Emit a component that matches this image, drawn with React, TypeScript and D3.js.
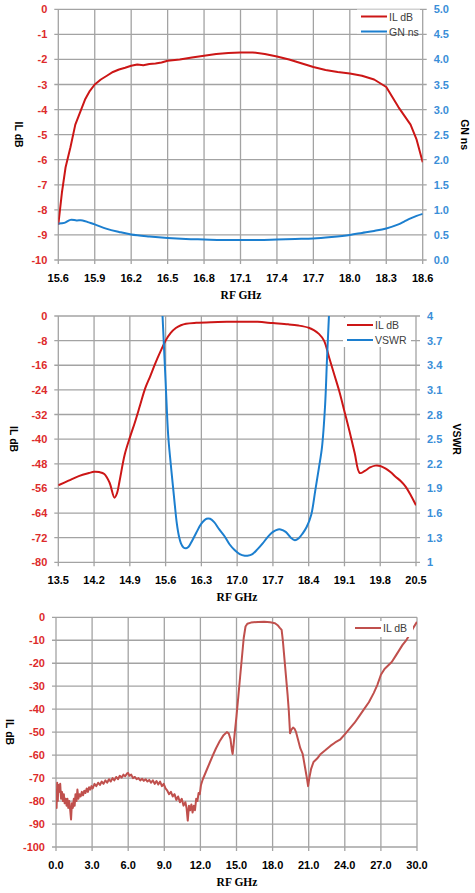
import React from 'react';
import * as d3 from 'd3';

// ---- chart 1: IL dB + group delay, 15.6 - 18.6 GHz ----
const ilFreq1 = [15.60, 15.63, 15.66, 15.70, 15.74, 15.78, 15.82, 15.86, 15.90, 15.95, 16.00, 16.05, 16.10, 16.15, 16.20, 16.25, 16.30, 16.35, 16.40, 16.45, 16.50, 16.60, 16.70, 16.80, 16.90, 17.00, 17.10, 17.20, 17.30, 17.40, 17.50, 17.60, 17.70, 17.80, 17.90, 18.00, 18.10, 18.20, 18.30, 18.40, 18.50, 18.55, 18.60];
const ilDb1 = [-8.6, -7.3, -6.3, -5.5, -4.6, -4.1, -3.6, -3.25, -3.0, -2.8, -2.65, -2.5, -2.4, -2.33, -2.25, -2.2, -2.23, -2.18, -2.16, -2.12, -2.05, -2.0, -1.92, -1.85, -1.78, -1.74, -1.72, -1.72, -1.78, -1.88, -2.0, -2.15, -2.3, -2.42, -2.5, -2.56, -2.65, -2.8, -3.1, -3.9, -4.6, -5.2, -6.1];
const gnFreq1 = [15.60, 15.65, 15.70, 15.75, 15.80, 15.85, 15.90, 16.00, 16.10, 16.20, 16.35, 16.50, 16.65, 16.80, 16.95, 17.10, 17.25, 17.40, 17.55, 17.70, 17.85, 18.00, 18.10, 18.20, 18.30, 18.40, 18.45, 18.50, 18.55, 18.60];
const gnNs1 = [0.73, 0.74, 0.80, 0.79, 0.79, 0.75, 0.71, 0.62, 0.56, 0.51, 0.47, 0.44, 0.42, 0.41, 0.40, 0.40, 0.40, 0.41, 0.42, 0.43, 0.46, 0.50, 0.54, 0.58, 0.63, 0.71, 0.77, 0.83, 0.88, 0.92];
const xTicks1 = [15.6, 15.9, 16.2, 16.5, 16.8, 17.1, 17.4, 17.7, 18.0, 18.3, 18.6];
const yTicks1 = [0, -1, -2, -3, -4, -5, -6, -7, -8, -9, -10];
const y2Ticks1 = [0, 0.5, 1, 1.5, 2, 2.5, 3, 3.5, 4, 4.5, 5];

// ---- chart 2: IL dB + VSWR, 13.5 - 20.5 GHz ----
const ilFreq2 = [13.5, 13.7, 13.9, 14.1, 14.2, 14.3, 14.4, 14.5, 14.6, 14.65, 14.7, 14.8, 14.9, 15.0, 15.1, 15.2, 15.3, 15.4, 15.5, 15.6, 15.7, 15.8, 15.9, 16.0, 16.2, 16.5, 16.8, 17.1, 17.4, 17.7, 18.0, 18.2, 18.4, 18.5, 18.6, 18.7, 18.8, 18.9, 19.0, 19.1, 19.2, 19.3, 19.4, 19.5, 19.6, 19.7, 19.8, 19.9, 20.0, 20.1, 20.2, 20.3, 20.4, 20.5];
const ilDb2 = [-55, -53.5, -52, -51, -50.6, -50.7, -51.3, -54, -59, -57.5, -53.5, -45, -39.5, -34.5, -29, -23.5, -19.5, -15.3, -11.5, -8, -5.5, -3.9, -3.0, -2.5, -2.2, -2.0, -1.9, -1.85, -1.9, -2.3, -2.7, -3.1, -3.8, -4.6, -5.8, -8, -13.5, -19, -24.5, -31, -37.5, -44.5, -51, -50.3, -49.2, -48.6, -48.7, -49.5, -50.7, -52.2, -53.6, -55.5, -58.3, -61.5];
const vswrFreq2 = [15.50, 15.54, 15.60, 15.65, 15.70, 15.74, 15.78, 15.82, 15.86, 15.90, 15.95, 16.00, 16.05, 16.10, 16.20, 16.30, 16.40, 16.47, 16.55, 16.65, 16.75, 16.85, 16.95, 17.05, 17.15, 17.20, 17.30, 17.40, 17.50, 17.60, 17.70, 17.80, 17.85, 17.95, 18.05, 18.13, 18.20, 18.28, 18.36, 18.45, 18.53, 18.60, 18.66, 18.72, 18.76, 18.80, 18.84];
const vswr2 = [4.55, 4.0, 3.2, 2.55, 2.2, 1.95, 1.7, 1.47, 1.32, 1.23, 1.18, 1.17, 1.19, 1.24, 1.36, 1.47, 1.53, 1.53, 1.49, 1.40, 1.32, 1.22, 1.15, 1.10, 1.08, 1.08, 1.10, 1.16, 1.23, 1.31, 1.37, 1.40, 1.40, 1.37, 1.30, 1.27, 1.29, 1.35, 1.43, 1.58, 1.88, 2.15, 2.4, 2.9, 3.5, 4.05, 4.6];
const xTicks2 = [13.5, 14.2, 14.9, 15.6, 16.3, 17.0, 17.7, 18.4, 19.1, 19.8, 20.5];
const yTicks2 = [0, -8, -16, -24, -32, -40, -48, -56, -64, -72, -80];
const y2Ticks2 = [1, 1.3, 1.6, 1.9, 2.2, 2.5, 2.8, 3.1, 3.4, 3.7, 4];

// ---- chart 3: wideband IL dB, 0 - 30 GHz ----
const ilFreq3 = [0.00, 0.05, 0.10, 0.15, 0.20, 0.28, 0.35, 0.42, 0.50, 0.58, 0.65, 0.72, 0.80, 0.88, 0.95, 1.02, 1.10, 1.18, 1.25, 1.32, 1.40, 1.48, 1.55, 1.62, 1.70, 1.78, 1.86, 1.95, 2.05, 2.15, 2.25, 2.35, 2.45, 2.55, 2.65, 2.75, 2.85, 2.95, 3.05, 3.2, 3.35, 3.5, 3.65, 3.8, 3.95, 4.1, 4.25, 4.4, 4.55, 4.7, 4.85, 5.0, 5.15, 5.3, 5.45, 5.6, 5.75, 5.9, 6.0, 6.1, 6.25, 6.4, 6.55, 6.7, 6.85, 7.0, 7.15, 7.3, 7.45, 7.6, 7.75, 7.9, 8.05, 8.2, 8.35, 8.5, 8.65, 8.8, 8.95, 9.1, 9.25, 9.4, 9.55, 9.7, 9.85, 10.0, 10.15, 10.3, 10.45, 10.6, 10.75, 10.85, 10.95, 11.05, 11.15, 11.25, 11.35, 11.45, 11.55, 11.65, 11.75, 11.85, 11.95, 12.05, 12.2, 12.4, 12.6, 12.8, 13.0, 13.3, 13.6, 13.9, 14.2, 14.35, 14.5, 14.62, 14.68, 14.75, 14.85, 15.0, 15.15, 15.3, 15.45, 15.6, 15.75, 15.9, 16.2, 16.8, 17.3, 17.8, 18.2, 18.45, 18.6, 18.75, 18.85, 18.95, 19.05, 19.15, 19.25, 19.35, 19.45, 19.55, 19.7, 19.82, 19.95, 20.1, 20.3, 20.5, 20.7, 20.85, 20.95, 21.05, 21.2, 21.4, 21.7, 22.0, 22.4, 22.8, 23.2, 23.6, 24.0, 24.4, 24.8, 25.2, 25.6, 26.0, 26.4, 26.7, 27.0, 27.3, 27.6, 27.9, 28.2, 28.5, 28.8, 29.1, 29.4, 29.7, 30.0];
const ilDb3 = [-75, -83, -72, -80, -73, -76, -72.5, -79, -76, -80, -77, -81, -79, -82, -79, -83, -80, -84, -88, -81, -83, -79, -82, -77, -80, -75, -79, -77, -78, -76, -77.5, -75.5, -76.5, -74.5, -76, -74, -75, -73.5, -74.5, -72.5, -73.5, -72, -73, -71.5, -72.5, -71, -72, -70.5, -71.5, -70, -71, -69.5, -70.5, -69, -69.8, -68.5, -69.2, -68, -67.8, -69, -68.5, -70, -69.5, -70.5, -70, -71, -70.3, -71.2, -70.5, -71.5, -70.8, -72, -71, -72.5, -71.3, -72.8, -71.5, -73.5, -72.5, -74.5, -75.5, -77, -76, -78, -77, -79.5, -78, -80.5, -79, -82, -80.5, -83, -88.5, -82, -84, -81.5, -85, -82, -84, -79, -80, -76.5, -77, -73, -70.5, -68, -65.5, -63, -60.5, -57, -54, -51.5, -50, -50.5, -53, -58, -59.5, -56, -50.5, -43, -34.5, -26, -17.5, -9, -4, -2.8, -2.3, -2, -1.9, -2.2, -2.6, -3.6, -4.6, -5.5, -10, -16, -22, -28, -34, -41, -50.5, -49, -48, -48.5, -50, -53, -57, -59.5, -65.5, -70, -73.5, -70, -66, -63, -61.5, -59.5, -57.8, -56, -54.5, -53.3, -51, -48.5, -46, -43, -40, -37, -33, -29.5, -25, -22.5, -21, -19.5, -17, -14.5, -12, -10, -7.5, -4.5, -2];
const xTicks3 = [0, 3, 6, 9, 12, 15, 18, 21, 24, 27, 30];
const yTicks3 = [0, -10, -20, -30, -40, -50, -60, -70, -80, -90, -100];

const RED = '#cc1616';
const BLUE = '#1c7fcf';
const RED3 = '#c0504d';
const LABEL_RED = '#dd2b2b';
const LABEL_BLUE = '#3a8ed8';
const GRID = '#a3a3a3';
const SANS = '"Liberation Sans", Arial, sans-serif';
const SERIF = '"Liberation Serif", "Times New Roman", serif';

type Series = {
  x: number[];
  y: number[];
  right?: boolean;
  color: string;
  name: string;
  smooth?: boolean;
};

type ChartProps = {
  id: string;
  left: number;
  right: number;
  top: number;
  bottom: number;
  xTicks: number[];
  yTicks: number[];
  y2Ticks?: number[];
  y2Fmt?: (v: number) => string;
  series: Series[];
  legend: { x: number; y: number; w: number; h: number };
  yTitleX: number;
  y2Title?: string;
  y2TitleX?: number;
  xTitleX: number;
};

function Chart(p: ChartProps) {
  const x = d3.scaleLinear().domain([p.xTicks[0], p.xTicks[p.xTicks.length - 1]]).range([p.left, p.right]);
  const y = d3.scaleLinear().domain([p.yTicks[p.yTicks.length - 1], p.yTicks[0]]).range([p.bottom, p.top]);
  const y2 = p.y2Ticks
    ? d3.scaleLinear().domain([p.y2Ticks[0], p.y2Ticks[p.y2Ticks.length - 1]]).range([p.bottom, p.top])
    : null;
  const midY = (p.top + p.bottom) / 2;

  const paths = p.series.map((s, i) => {
    const ys = s.right && y2 ? y2 : y;
    const line = d3
      .line<number>()
      .x((_, j) => x(s.x[j]))
      .y((v) => ys(v))
      .curve(s.smooth ? d3.curveCatmullRom.alpha(0.5) : d3.curveLinear);
    return (
      <path key={i} d={line(s.y) || ''} fill="none" stroke={s.color} strokeWidth={2}
        strokeLinejoin="round" clipPath={`url(#clip-${p.id})`} />
    );
  });

  return (
    <g>
      <defs>
        <clipPath id={`clip-${p.id}`}>
          <rect x={p.left} y={p.top} width={p.right - p.left} height={p.bottom - p.top} />
        </clipPath>
      </defs>
      {p.xTicks.map((t, i) => (
        <line key={'vx' + i} x1={x(t)} x2={x(t)} y1={p.top} y2={p.bottom + 4} stroke={GRID} strokeWidth={1.3} />
      ))}
      {p.yTicks.map((t, i) => (
        <line key={'hy' + i} x1={p.left - 4} x2={y2 ? p.right + 4 : p.right} y1={y(t)} y2={y(t)} stroke={GRID} strokeWidth={1.3} />
      ))}
      {p.yTicks.map((t, i) => (
        <text key={'ly' + i} x={p.left - 11} y={y(t) + 4} textAnchor="end" fontFamily={SANS} fontWeight={700}
          fontSize={11} fill={LABEL_RED}>{t}</text>
      ))}
      {y2 && p.y2Ticks && p.y2Ticks.map((t, i) => (
        <text key={'ry' + i} x={p.right + 11} y={y2(t) + 4} fontFamily={SANS} fontWeight={700}
          fontSize={11} fill={LABEL_BLUE}>{p.y2Fmt ? p.y2Fmt(t) : t}</text>
      ))}
      {p.xTicks.map((t, i) => (
        <text key={'lx' + i} x={x(t)} y={p.bottom + 22} textAnchor="middle" fontFamily={SANS} fontWeight={700}
          fontSize={11} fill="#000">{t.toFixed(1)}</text>
      ))}
      {paths}
      <text x={p.xTitleX} y={p.bottom + 39} textAnchor="middle" fontFamily={SERIF} fontWeight={700}
        fontSize={11.5} fill="#000">RF GHz</text>
      <text transform={`translate(${p.yTitleX},${midY}) rotate(90)`} textAnchor="middle" dy="0.35em"
        fontFamily={SANS} fontWeight={700} fontSize={10.5} fill="#000">IL dB</text>
      {p.y2Title && (
        <text transform={`translate(${p.y2TitleX},${midY}) rotate(90)`} textAnchor="middle" dy="0.35em"
          fontFamily={SANS} fontWeight={700} fontSize={10.5} fill="#000">{p.y2Title}</text>
      )}
      <rect x={p.legend.x} y={p.legend.y} width={p.legend.w} height={p.legend.h} fill="#fff" />
      {p.series.map((s, i) => {
        const cy = p.legend.y + 7 + i * 15;
        return (
          <g key={'lg' + i}>
            <line x1={p.legend.x + 4} x2={p.legend.x + 30} y1={cy} y2={cy} stroke={s.color} strokeWidth={2} />
            <text x={p.legend.x + 32} y={cy + 4} fontFamily={SANS} fontSize={10.5} fill="#404040">{s.name}</text>
          </g>
        );
      })}
    </g>
  );
}

export default function App() {
  return (
    <div style={{ position: 'absolute', left: 0, top: 0, background: '#fff' }}>
      <svg width={475} height={893}>
        <Chart id="c1" left={58.3} right={422.7} top={9.3} bottom={260}
          xTicks={xTicks1} yTicks={yTicks1} y2Ticks={y2Ticks1} y2Fmt={(v) => v.toFixed(1)}
          series={[
            { x: ilFreq1, y: ilDb1, color: RED, name: 'IL dB' },
            { x: gnFreq1, y: gnNs1, color: BLUE, name: 'GN ns', right: true, smooth: true },
          ]}
          legend={{ x: 357, y: 9.5, w: 63, h: 24 }}
          yTitleX={19} y2Title="GN ns" y2TitleX={465} xTitleX={241} />
        <Chart id="c2" left={58.3} right={416} top={316} bottom={562.3}
          xTicks={xTicks2} yTicks={yTicks2} y2Ticks={y2Ticks2}
          series={[
            { x: ilFreq2, y: ilDb2, color: RED, name: 'IL dB', smooth: true },
            { x: vswrFreq2, y: vswr2, color: BLUE, name: 'VSWR', right: true, smooth: true },
          ]}
          legend={{ x: 343, y: 318, w: 68, h: 29 }}
          yTitleX={14} y2Title="VSWR" y2TitleX={457} xTitleX={237} />
        <Chart id="c3" left={56} right={417} top={617.3} bottom={847}
          xTicks={xTicks3} yTicks={yTicks3}
          series={[{ x: ilFreq3, y: ilDb3, color: RED3, name: 'IL dB' }]}
          legend={{ x: 351, y: 621, w: 62, h: 16 }}
          yTitleX={10} xTitleX={237} />
      </svg>
    </div>
  );
}
